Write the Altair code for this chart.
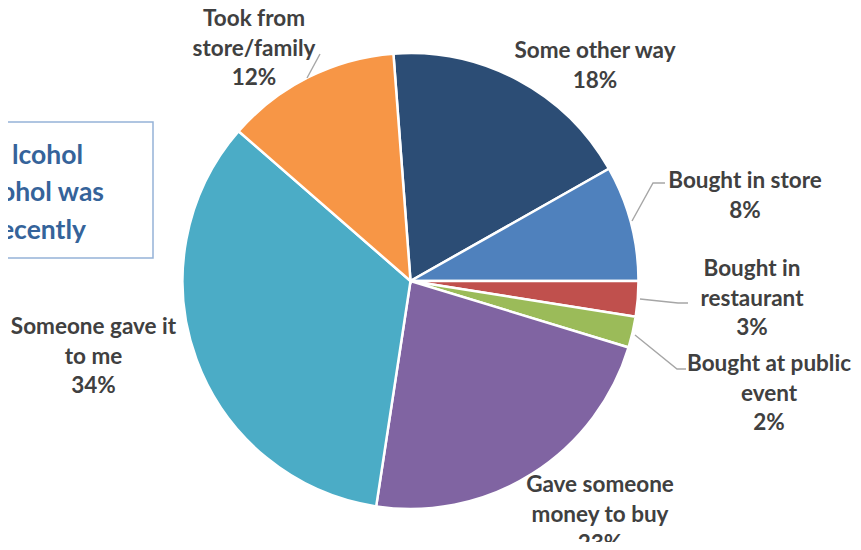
import math
import altair as alt
import pandas as pd

# ---- data ----
categories = ["Some other way", "Bought in store", "Bought in restaurant",
              "Bought at public event", "Gave someone money to buy",
              "Someone gave it to me", "Took from store/family"]
shares = [18.0, 8.2, 2.5, 2.2, 22.7, 34.0, 12.4]
pct_labels = ["18%", "8%", "3%", "2%", "23%", "34%", "12%"]
label_lines = ["Some other way", "Bought in store", "Bought in\nrestaurant",
               "Bought at public\nevent", "Gave someone\nmoney to buy",
               "Someone gave it\nto me", "Took from\nstore/family"]
colors = ["#2C4D75", "#4F81BD", "#C0504D", "#9BBB59", "#8064A2", "#4BACC6", "#F79646"]
box_lines = ["lcohol", "ohol was", "ecently"]

# ---- layout (view pixel coordinates; page = view + 8) ----
W, H = 845, 534
CX, CY, R = 402.5, 273, 228
start = -4.3 * math.pi / 180
# (x centre, y of first line)
label_pos = [(587, 43), (737, 173), (744, 261), (761, 356), (592, 477), (85.5, 319), (246, 11)]
leaders = [
    [(624, 213), (645, 175), (657, 175)],
    [(632, 291), (670, 295), (680, 295)],
    [(627, 327), (669, 361), (678, 361)],
    [(299, 70), (312, 46)],
]
box_text_pos = [(75, 148), (96, 185), (78, 223)]

df = pd.DataFrame({"category": categories, "share": shares,
                   "order": list(range(len(categories)))})

xs = alt.Scale(domain=[0, W], range=[0, W], nice=False, zero=False)
ys = alt.Scale(domain=[0, H], range=[0, H], nice=False, zero=False)

pie = alt.Chart(df).mark_arc(radius=R, stroke="white", strokeWidth=2.5).encode(
    theta=alt.Theta("share:Q", stack=True,
                    scale=alt.Scale(range=[2 * math.pi + start, 4 * math.pi + start])),
    color=alt.Color("category:N", scale=alt.Scale(domain=categories, range=colors), legend=None),
    order=alt.Order("order:Q", sort="ascending"),
    x=alt.value(CX), y=alt.value(CY),
)

lab_df = pd.DataFrame({
    "text": [f"{l}\n{p}" for l, p in zip(label_lines, pct_labels)],
    "x": [p[0] for p in label_pos], "y": [p[1] for p in label_pos],
})
labels = alt.Chart(lab_df).mark_text(
    font="Lato", fontWeight="bold", fontSize=22.5, color="#404040",
    lineBreak="\n", lineHeight=29.5, align="center", baseline="middle"
).encode(
    x=alt.X("x:Q", scale=xs, axis=None),
    y=alt.Y("y:Q", scale=ys, axis=None),
    text="text:N",
)

rows = []
for i, seg in enumerate(leaders):
    for j, (x, y) in enumerate(seg):
        rows.append({"g": i, "k": j, "x": x, "y": y})
lines = alt.Chart(pd.DataFrame(rows)).mark_line(color="#A6A6A6", strokeWidth=1.4).encode(
    x=alt.X("x:Q", scale=xs, axis=None),
    y=alt.Y("y:Q", scale=ys, axis=None),
    detail="g:N", order="k:Q",
)

box = alt.Chart(pd.DataFrame({"a": [0]})).mark_rect(
    fill="white", stroke="#95B3D7", strokeWidth=1.5
).encode(x=alt.value(-30), x2=alt.value(145), y=alt.value(114), y2=alt.value(250))

box_df = pd.DataFrame({"text": box_lines,
                       "x": [p[0] for p in box_text_pos], "y": [p[1] for p in box_text_pos]})
box_text = alt.Chart(box_df).mark_text(
    font="Lato", fontWeight="bold", fontSize=26.5, color="#35639A",
    align="right", baseline="middle"
).encode(
    x=alt.X("x:Q", scale=xs, axis=None),
    y=alt.Y("y:Q", scale=ys, axis=None),
    text="text:N",
)

chart = alt.layer(box, box_text, pie, lines, labels).properties(
    width=W, height=H, padding=0,
    autosize=alt.AutoSizeParams(type="none"),
).configure_view(stroke=None)

chart.save("out.html", embed_options={"renderer": "svg", "actions": False})
